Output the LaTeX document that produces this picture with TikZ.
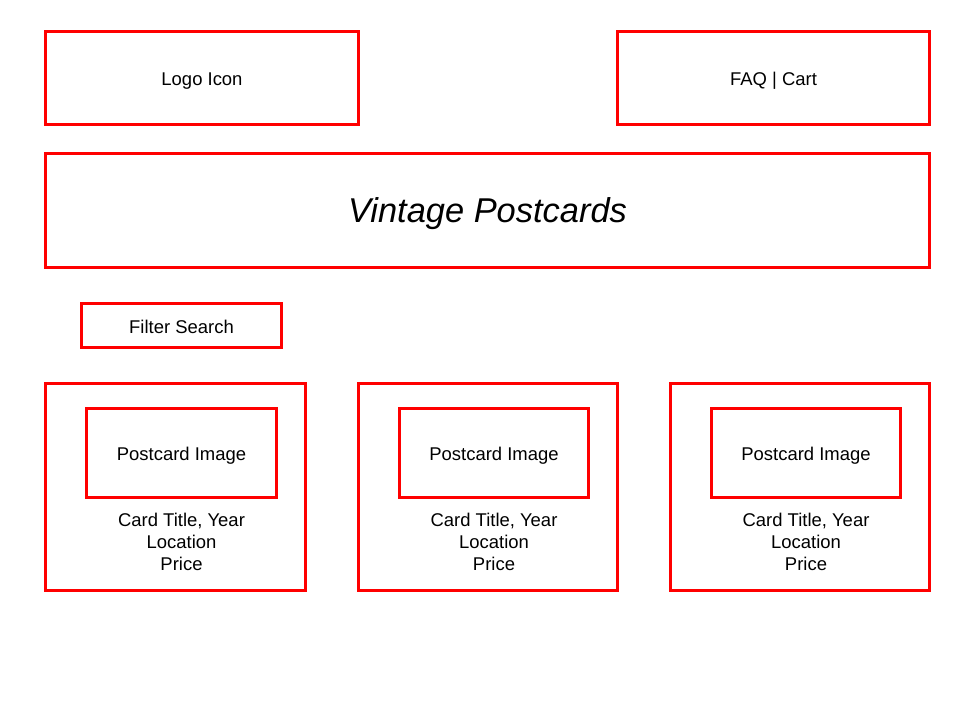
\documentclass[tikz,border=0pt]{standalone}
\usepackage{fontspec}
\setmainfont{Liberation Sans}
\usetikzlibrary{positioning}

\begin{document}
\begin{tikzpicture}[
  x=0.02cm, y=-0.02cm,
  font=\fontsize{10.5}{12.6}\selectfont,
  wire/.style={draw=red, line width=1.7pt, align=center, inner sep=0pt,
               text height=8.7pt, text depth=0pt},
  infotxt/.style={align=center, inner sep=0pt}
]
\useasboundingbox (0,0) rectangle (960,720);

%% ---- cabecera ----
\node[wire, minimum width=6.26cm, minimum height=1.86cm] (logo) at (202,78) {Logo Icon};
\node[wire, minimum width=6.24cm, minimum height=1.86cm] (menu) at (773.5,78) {FAQ | Cart};
\node[wire, minimum width=17.68cm, minimum height=2.28cm, text height=14pt,
      font=\fontsize{19.6}{23}\selectfont\itshape] (title) at (487.5,210.5) {Vintage Postcards};

%% ---- filtro ----
\node[wire, minimum width=4cm, minimum height=0.88cm] (filter) at (181.5,325.5) {Filter Search};

%% ---- tarjetas ----
\foreach \i/\cx in {1/175.5, 2/488, 3/800} {
  \node[wire, minimum width=5.2cm, minimum height=4.14cm] (card\i) at (\cx,487) {};
  \node[wire, minimum width=3.8cm, minimum height=1.78cm] (img\i) at (\cx+6,453) {Postcard Image};
  \node[infotxt] (info\i) at (\cx+6,542) {Card Title, Year\\Location\\Price};
}

\end{tikzpicture}
\end{document}
